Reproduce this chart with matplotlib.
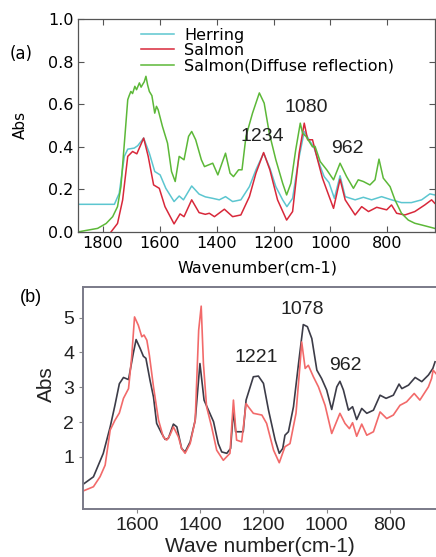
import numpy as np
import matplotlib
matplotlib.use('Agg')
import matplotlib.pyplot as plt

# ---- panel (a) data ----
herring_wn = [1888, 1760, 1743, 1725, 1713, 1690, 1678, 1657, 1637, 1618, 1599, 1579,
              1550, 1532, 1517, 1488, 1462, 1440, 1414, 1391, 1369, 1344, 1315, 1285,
              1262, 1235, 1213, 1192, 1168, 1153, 1133, 1112, 1092, 1075, 1057, 1040,
              1022, 1005, 986, 966, 948, 913, 884, 855, 820, 785, 750, 715, 679, 650, 633]
herring_abs = [0.130, 0.130, 0.182, 0.355, 0.389, 0.394, 0.405, 0.441, 0.370, 0.284, 0.268, 0.205,
               0.143, 0.169, 0.151, 0.216, 0.178, 0.165, 0.158, 0.151, 0.166, 0.143, 0.151, 0.213,
               0.292, 0.370, 0.300, 0.213, 0.151, 0.119, 0.158, 0.339, 0.472, 0.433, 0.394, 0.323,
               0.260, 0.232, 0.158, 0.264, 0.166, 0.151, 0.163, 0.151, 0.166, 0.151, 0.138, 0.138,
               0.151, 0.179, 0.174]

salmon_wn = [1772, 1749, 1731, 1713, 1696, 1681, 1657, 1641, 1622, 1602, 1582, 1550, 1529,
             1515, 1488, 1462, 1440, 1426, 1408, 1373, 1344, 1315, 1285, 1262, 1235, 1213,
             1186, 1154, 1133, 1110, 1092, 1080, 1063, 1045, 1028, 1013, 989, 966, 948, 913,
             890, 866, 837, 802, 785, 767, 738, 703, 668, 644, 633]
salmon_abs = [0.0, 0.04, 0.15, 0.355, 0.378, 0.367, 0.441, 0.355, 0.221, 0.205, 0.119, 0.038, 0.085,
              0.072, 0.151, 0.091, 0.083, 0.088, 0.072, 0.107, 0.072, 0.080, 0.166, 0.276, 0.373, 0.292,
              0.151, 0.056, 0.096, 0.370, 0.511, 0.433, 0.433, 0.339, 0.253, 0.198, 0.111, 0.248,
              0.151, 0.080, 0.119, 0.096, 0.116, 0.104, 0.127, 0.088, 0.080, 0.096, 0.127, 0.151, 0.135]

diffuse_wn = [1889, 1865, 1819, 1789, 1766, 1749, 1737, 1723, 1713, 1708, 1702, 1696, 1688,
              1682, 1672, 1666, 1661, 1655, 1649, 1643, 1637, 1628, 1618, 1612, 1606, 1591,
              1573, 1559, 1546, 1532, 1515, 1499, 1488, 1474, 1454, 1443, 1414, 1396, 1369,
              1353, 1341, 1323, 1311, 1297, 1274, 1250, 1233, 1215, 1192, 1168, 1154, 1139,
              1122, 1106, 1098, 1086, 1063, 1054, 1036, 1013, 989, 966, 943, 919, 902, 884,
              861, 843, 829, 814, 790, 773, 750, 726, 703, 679, 656, 633]
diffuse_abs = [0.0, 0.006, 0.017, 0.04, 0.072, 0.119, 0.213, 0.449, 0.621, 0.640, 0.660, 0.650, 0.684,
               0.668, 0.700, 0.680, 0.692, 0.705, 0.731, 0.690, 0.660, 0.640, 0.558, 0.590, 0.574, 0.496,
               0.417, 0.284, 0.237, 0.355, 0.339, 0.449, 0.472, 0.433, 0.339, 0.307, 0.323, 0.268, 0.370,
               0.276, 0.260, 0.292, 0.292, 0.449, 0.558, 0.653, 0.605, 0.464, 0.339, 0.229, 0.174, 0.229,
               0.386, 0.511, 0.464, 0.449, 0.400, 0.402, 0.331, 0.292, 0.245, 0.323, 0.260, 0.205, 0.245,
               0.237, 0.221, 0.245, 0.342, 0.253, 0.213, 0.151, 0.088, 0.056, 0.041, 0.033, 0.025, 0.017]

# ---- panel (b) data ----
dark_wn = [1770, 1738, 1707, 1685, 1670, 1656, 1643, 1627, 1612, 1603, 1590, 1580, 1572, 1559,
           1548, 1538, 1522, 1511, 1501, 1485, 1474, 1459, 1448, 1432, 1416, 1401, 1388, 1374,
           1358, 1343, 1332, 1316, 1304, 1295, 1288, 1264, 1255, 1232, 1216, 1200, 1184, 1163,
           1150, 1139, 1132, 1121, 1105, 1089, 1074, 1061, 1047, 1031, 1016, 1000, 984, 968, 958,
           947, 931, 918, 905, 889, 873, 852, 831, 812, 789, 771, 762, 741, 720, 699, 678, 664, 657]
dark_abs = [0.215, 0.425, 1.096, 1.86, 2.48, 3.1, 3.28, 3.22, 3.97, 4.37, 4.11, 3.89, 3.83, 3.20,
            2.72, 1.96, 1.67, 1.50, 1.53, 1.94, 1.86, 1.24, 1.14, 1.43, 2.05, 3.68, 2.63, 2.34,
            2.01, 1.38, 1.14, 1.10, 1.24, 2.34, 1.72, 1.72, 2.63, 3.30, 3.32, 3.11, 2.34, 1.48,
            1.10, 1.24, 1.62, 1.72, 2.44, 3.68, 4.80, 4.74, 4.40, 3.49, 3.25, 2.92, 2.36, 3.01, 3.17,
            2.92, 2.34, 2.44, 2.07, 2.39, 2.25, 2.34, 2.77, 2.68, 2.77, 3.09, 2.96, 3.06, 3.28, 3.16,
            3.35, 3.54, 3.73]

pink_wn = [1770, 1738, 1717, 1701, 1685, 1670, 1656, 1643, 1627, 1617, 1608, 1596, 1585, 1578,
           1569, 1561, 1548, 1532, 1517, 1506, 1496, 1485, 1469, 1459, 1448, 1432, 1416, 1405,
           1397, 1390, 1380, 1364, 1348, 1327, 1306, 1295, 1285, 1269, 1255, 1248, 1232, 1205,
           1190, 1168, 1150, 1132, 1116, 1097, 1084, 1079, 1068, 1058, 1042, 1026, 1005, 984,
           958, 942, 928, 918, 905, 889, 873, 852, 831, 810, 789, 768, 747, 723, 705, 678, 668,
           663, 654]
pink_abs = [0.02, 0.14, 0.43, 0.76, 1.77, 2.05, 2.26, 2.68, 2.96, 3.87, 5.02, 4.78, 4.45, 4.50,
            4.35, 3.92, 3.01, 2.05, 1.57, 1.48, 1.62, 1.86, 1.57, 1.24, 1.10, 1.38, 2.05, 4.64,
            5.33, 3.68, 2.44, 1.86, 1.19, 0.90, 1.10, 2.63, 1.48, 1.43, 2.53, 2.44, 2.25, 2.20,
            1.96, 1.19, 0.83, 1.29, 1.38, 2.25, 3.68, 4.30, 3.54, 3.63, 3.30, 3.01, 2.48, 1.67,
            2.25, 1.96, 1.81, 1.98, 1.59, 1.94, 1.62, 1.72, 2.29, 2.10, 2.20, 2.48, 2.58, 2.82,
            2.63, 3.01, 3.25, 3.49, 3.39]

W, H = 436, 557
fig = plt.figure(figsize=(W / 100, H / 100), dpi=100)

def px(x, y):
    return x / W, 1 - y / H

# ---------------- (a) ----------------
axa = fig.add_axes([78 / W, 1 - 232 / H, 357 / W, 213 / H])
axa.plot(herring_wn, herring_abs, color='#5cc6d0', lw=1.1, label='Herring')
axa.plot(salmon_wn, salmon_abs, color='#d8283a', lw=1.1, label='Salmon')
axa.plot(diffuse_wn, diffuse_abs, color='#5cb838', lw=1.1, label='Salmon(Diffuse reflection)')
axa.set_xlim(1888, 632)
axa.set_ylim(0, 1.0)
axa.set_xticks([1800, 1600, 1400, 1200, 1000, 800])
axa.set_yticks([0.0, 0.2, 0.4, 0.6, 0.8, 1.0])
axa.yaxis.set_major_formatter(matplotlib.ticker.FormatStrFormatter('%.1f'))
axa.tick_params(direction='in', top=True, right=True, length=4, width=0.8,
                color='#555555', labelsize=11.5, pad=3)
for s in axa.spines.values():
    s.set_color('#555555')
    s.set_linewidth(0.9)
axa.legend(loc='upper left', bbox_to_anchor=(0.158, 0.99), frameon=False,
           fontsize=11.5, handlelength=2.05, handletextpad=0.65, labelspacing=0.02,
           borderaxespad=0)
axa.text(1240, 0.447, '1234', fontsize=14, color='#222222', ha='center', va='center',
         family='Liberation Sans')
axa.text(1086, 0.583, '1080', fontsize=14, color='#222222', ha='center', va='center',
         family='Liberation Sans')
axa.text(942, 0.39, '962', fontsize=14, color='#222222', ha='center', va='center',
         family='Liberation Sans')
fig.text(*px(21, 54), '(a)', fontsize=12, ha='center', va='center')
fig.text(*px(20, 125), 'Abs', fontsize=11, rotation=90, ha='center', va='center')
fig.text(*px(257, 268), 'Wavenumber(cm-1)', fontsize=11.5, ha='center', va='center')

# ---------------- (b) ----------------
axb = fig.add_axes([82.7 / W, 1 - 509 / H, (W - 82.7) / W, 222 / H])
axb.plot(dark_wn, dark_abs, color='#3c3c48', lw=1.2)
axb.plot(pink_wn, pink_abs, color='#f26a6a', lw=1.2)
axb.set_xlim(1772, 654)
axb.set_ylim(-0.5, 5.88)
axb.set_xticks([1600, 1400, 1200, 1000, 800])
axb.set_yticks([1, 2, 3, 4, 5])
axb.tick_params(direction='out', length=3, width=0.8, color='#888888',
                labelsize=14, labelcolor='#222222', pad=3)
for lab in axb.get_xticklabels() + axb.get_yticklabels():
    lab.set_family('Liberation Sans')
for s in axb.spines.values():
    s.set_color('#7a7a88')
    s.set_linewidth(1.4)
axb.spines['right'].set_visible(False)
axb.text(1223, 3.86, '1221', fontsize=14, color='#222222', ha='center', va='center',
         family='Liberation Sans')
axb.text(1078, 5.22, '1078', fontsize=14, color='#222222', ha='center', va='center',
         family='Liberation Sans')
axb.text(942, 3.63, '962', fontsize=14, color='#222222', ha='center', va='center',
         family='Liberation Sans')
fig.text(*px(31, 297), '(b)', fontsize=13, ha='center', va='center', family='Liberation Sans')
fig.text(*px(46, 384), 'Abs', fontsize=15, rotation=90, ha='center', va='center',
         family='Liberation Sans', color='#222222')
fig.text(*px(260, 547), 'Wave number(cm-1)', fontsize=15, ha='center', va='center',
         family='Liberation Sans', color='#222222')

fig.savefig('out.png', dpi=100)
